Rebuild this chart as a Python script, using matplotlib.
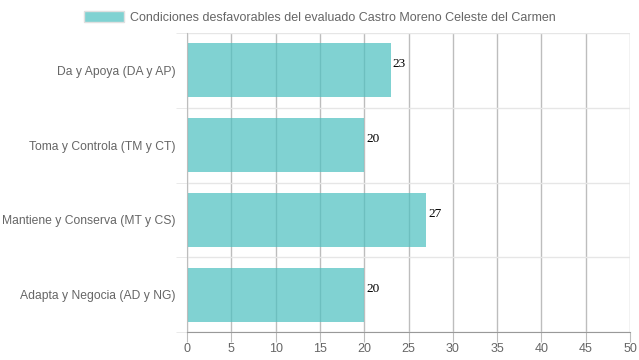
import matplotlib.pyplot as plt
from matplotlib.ticker import FixedLocator

plt.rcParams['font.family'] = ['Liberation Sans', 'DejaVu Sans']

categories = ["Da y Apoya (DA y AP)", "Toma y Controla (TM y CT)",
              "Mantiene y Conserva (MT y CS)", "Adapta y Negocia (AD y NG)"]
values = [23, 20, 27, 20]
series_label = "Condiciones desfavorables del evaluado Castro Moreno Celeste del Carmen"

fig = plt.figure(figsize=(6.39, 3.6), dpi=100)
ax = fig.add_axes([187 / 639, 1 - 332 / 360, (630 - 187) / 639, (332 - 33) / 360])

pos = list(range(len(categories)))
bars = ax.barh(pos, values, height=0.72, color=(75/255, 192/255, 192/255, 0.7),
               label=series_label, zorder=2)

for p, v in zip(pos, values):
    ax.text(v + 0.2, p - 0.08, str(v), family="Liberation Serif", fontsize=9.5,
            color="black", va="center", ha="left", zorder=3)

ax.set_xlim(0, 50)
ax.set_ylim(len(categories) - 0.5, -0.5)
ax.set_xticks(range(0, 51, 5))
ax.set_yticks(pos)
ax.set_yticklabels(categories)
ax.yaxis.set_minor_locator(FixedLocator([i - 0.5 for i in range(len(categories) + 1)]))

ax.grid(axis="x", color="#bdbdbd", linewidth=1, zorder=1)
ax.grid(axis="y", which="minor", color="#e6e6e6", linewidth=1, zorder=1)
ax.tick_params(axis="x", length=7, color="#bdbdbd", labelsize=9, pad=1)
ax.tick_params(axis="y", which="major", length=0, labelsize=8.7, pad=8)
ax.tick_params(axis="y", which="minor", length=8, color="#e6e6e6")
for lbl in ax.get_xticklabels() + ax.get_yticklabels():
    lbl.set_color("#666666")

for s in ["top", "right"]:
    ax.spines[s].set_visible(False)
ax.spines["bottom"].set_color("#999999")
ax.spines["left"].set_color("#bdbdbd")

leg = fig.legend(handles=[bars], labels=[series_label], loc="upper center",
                 bbox_to_anchor=(0.5, 1.0), frameon=False, fontsize=9,
                 handlelength=3.2, handleheight=1.0, handletextpad=0.5,
                 labelcolor="#666666")
leg.legend_handles[0].set_edgecolor("#e0e0e0")

fig.savefig("out.png", dpi=100)
